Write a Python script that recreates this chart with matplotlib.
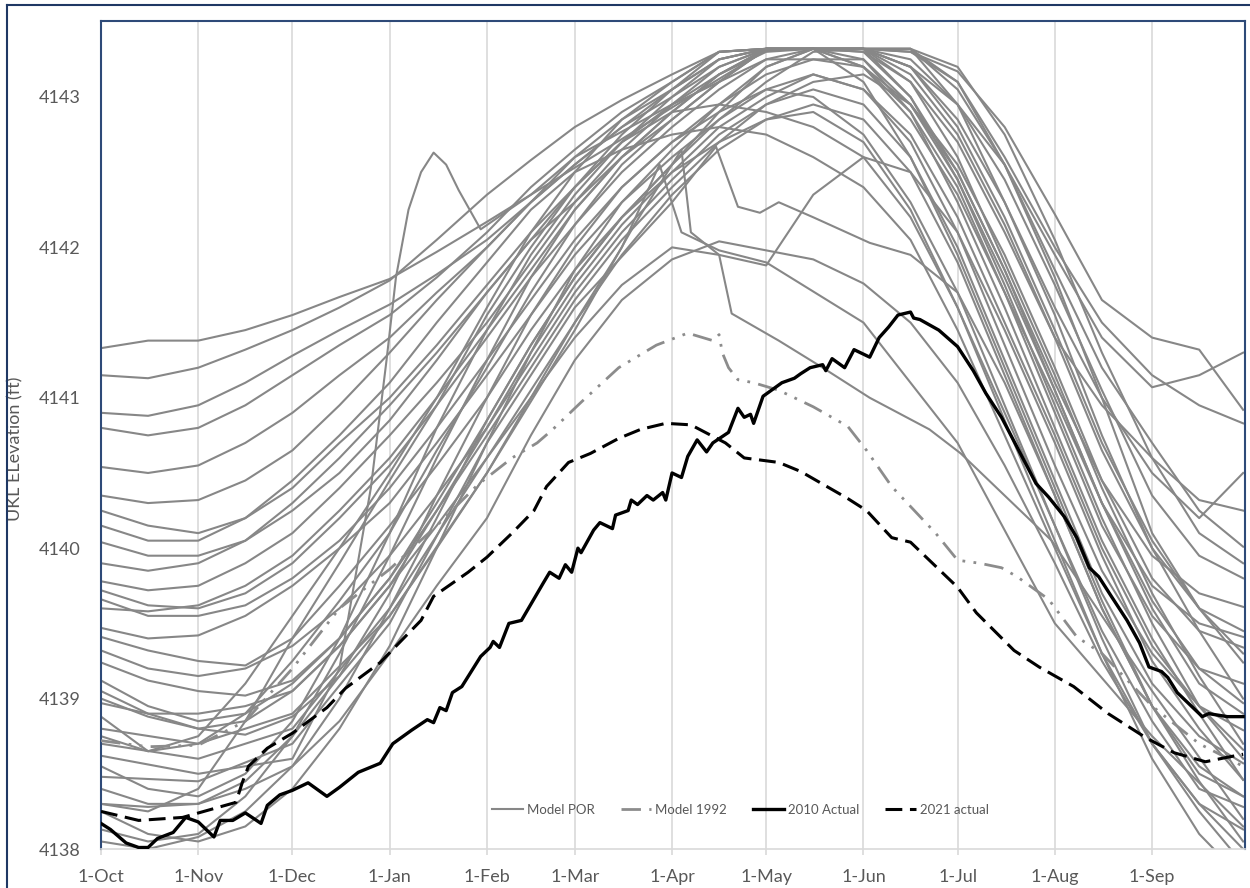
import matplotlib
matplotlib.use("Agg")
import matplotlib.pyplot as plt
from matplotlib.lines import Line2D

plt.rcParams['font.family'] = ['Lato', 'DejaVu Sans']

# ---------------- data ----------------
MONTH_DAYS = [0, 31, 61, 92, 123, 151, 182, 212, 243, 273, 304, 335]
MONTH_LABELS = ["1-Oct", "1-Nov", "1-Dec", "1-Jan", "1-Feb", "1-Mar",
                "1-Apr", "1-May", "1-Jun", "1-Jul", "1-Aug", "1-Sep"]
Y_TICKS = [4138, 4139, 4140, 4141, 4142, 4143]

# semi-monthly sample days (days since 1-Oct) for the Model POR traces
DAYS_POR = [0, 15, 31, 46, 61, 76, 92, 107, 123, 137, 151, 166, 182, 197,
            212, 227, 243, 258, 273, 288, 304, 319, 335, 350, 364]

por_a1 = [4141.33, 4141.38, 4141.38, 4141.45, 4141.55, 4141.67, 4141.79, 4141.97, 4142.17, 4142.35, 4142.53, 4142.72, 4142.93,
          4143.12, 4143.31, 4143.32, 4143.32, 4143.30, 4143.17, 4142.80, 4142.22, 4141.65, 4141.40, 4141.32, 4140.92]
por_a2 = [4141.15, 4141.13, 4141.20, 4141.32, 4141.45, 4141.60, 4141.78, 4142.05, 4142.35, 4142.58, 4142.80, 4142.98, 4143.15,
          4143.30, 4143.32, 4143.32, 4143.32, 4143.20, 4142.95, 4142.55, 4141.95, 4141.40, 4141.07, 4141.15, 4141.30]
por_a3 = [4140.90, 4140.88, 4140.95, 4141.10, 4141.28, 4141.45, 4141.62, 4141.82, 4142.05, 4142.30, 4142.55, 4142.80, 4143.05,
          4143.25, 4143.32, 4143.32, 4143.32, 4143.20, 4142.85, 4142.30, 4141.60, 4141.00, 4140.50, 4140.20, 4140.50]
por_a4 = [4140.80, 4140.75, 4140.80, 4140.95, 4141.15, 4141.35, 4141.55, 4141.80, 4142.10, 4142.40, 4142.65, 4142.90, 4143.10,
          4143.30, 4143.32, 4143.32, 4143.30, 4143.10, 4142.70, 4142.10, 4141.40, 4140.95, 4140.60, 4140.32, 4140.25]
por_a5 = [4140.54, 4140.50, 4140.55, 4140.70, 4140.90, 4141.15, 4141.40, 4141.70, 4142.00, 4142.30, 4142.60, 4142.85, 4143.05,
          4143.25, 4143.32, 4143.32, 4143.32, 4143.32, 4143.05, 4142.55, 4141.85, 4141.20, 4140.70, 4140.25, 4140.01]
por_a6 = [4140.35, 4140.30, 4140.32, 4140.45, 4140.65, 4140.95, 4141.30, 4141.65, 4142.00, 4142.30, 4142.55, 4142.80, 4143.00,
          4143.20, 4143.32, 4143.32, 4143.32, 4143.00, 4142.50, 4141.85, 4141.10, 4140.45, 4139.95, 4139.70, 4139.61]
por_a7 = [4140.25, 4140.15, 4140.10, 4140.20, 4140.40, 4140.70, 4141.00, 4141.35, 4141.75, 4142.10, 4142.40, 4142.70, 4142.95,
          4143.15, 4143.32, 4143.32, 4143.20, 4142.85, 4142.35, 4141.70, 4141.00, 4140.30, 4139.75, 4139.50, 4139.41]
por_a8 = [4140.04, 4139.95, 4139.95, 4140.05, 4140.25, 4140.50, 4140.85, 4141.25, 4141.70, 4142.05, 4142.30, 4142.60, 4142.90,
          4143.15, 4143.32, 4143.32, 4143.32, 4143.25, 4142.95, 4142.45, 4141.75, 4141.05, 4140.35, 4139.95, 4139.80]
por_b1 = [4139.78, 4139.72, 4139.75, 4139.90, 4140.10, 4140.40, 4140.75, 4141.10, 4141.50, 4141.90, 4142.30, 4142.65, 4142.95,
          4143.20, 4143.32, 4143.32, 4143.20, 4142.95, 4142.55, 4141.95, 4141.20, 4140.45, 4139.80, 4139.45, 4139.34]
por_b2 = [4139.72, 4139.62, 4139.60, 4139.70, 4139.90, 4140.20, 4140.55, 4140.95, 4141.40, 4141.80, 4142.15, 4142.50, 4142.80,
          4143.05, 4143.25, 4143.32, 4143.32, 4143.15, 4142.75, 4142.15, 4141.40, 4140.65, 4140.00, 4139.60, 4139.24]
por_b3 = [4139.66, 4139.55, 4139.55, 4139.62, 4139.80, 4140.05, 4140.40, 4140.80, 4141.25, 4141.65, 4142.05, 4142.40, 4142.70,
          4142.95, 4143.15, 4143.25, 4143.20, 4142.90, 4142.40, 4141.70, 4140.90, 4140.15, 4139.55, 4139.20, 4139.10]
por_b4 = [4139.60, 4139.58, 4139.62, 4139.75, 4139.95, 4140.25, 4140.60, 4141.00, 4141.45, 4141.85, 4142.25, 4142.60, 4142.85,
          4143.10, 4143.32, 4143.32, 4143.32, 4143.30, 4143.10, 4142.60, 4142.00, 4141.50, 4141.15, 4140.95, 4140.83]
por_b5 = [4139.47, 4139.40, 4139.42, 4139.55, 4139.75, 4140.00, 4140.30, 4140.70, 4141.15, 4141.55, 4141.95, 4142.30, 4142.60,
          4142.85, 4143.05, 4143.15, 4143.05, 4142.70, 4142.10, 4141.35, 4140.55, 4139.85, 4139.30, 4138.95, 4138.79]
por_b6 = [4139.41, 4139.32, 4139.25, 4139.22, 4139.40, 4139.75, 4140.15, 4140.55, 4141.00, 4141.45, 4141.85, 4142.20, 4142.55,
          4142.85, 4143.10, 4143.30, 4143.32, 4143.20, 4142.80, 4142.20, 4141.45, 4140.70, 4140.05, 4139.60, 4139.45]
por_b7 = [4139.90, 4139.85, 4139.90, 4140.05, 4140.30, 4140.60, 4140.95, 4141.30, 4141.70, 4142.05, 4142.40, 4142.70, 4142.90,
          4142.95, 4142.90, 4142.80, 4142.60, 4142.20, 4141.60, 4140.90, 4140.15, 4139.45, 4138.85, 4138.40, 4138.28]
por_b8 = [4140.15, 4140.05, 4140.05, 4140.20, 4140.45, 4140.75, 4141.10, 4141.50, 4141.90, 4142.25, 4142.50, 4142.65, 4142.75,
          4142.80, 4142.75, 4142.60, 4142.40, 4142.05, 4141.45, 4140.75, 4140.00, 4139.30, 4138.70, 4138.30, 4138.13]
por_c1 = [4139.32, 4139.20, 4139.15, 4139.20, 4139.35, 4139.60, 4139.95, 4140.35, 4140.80, 4141.25, 4141.70, 4142.10, 4142.45,
          4142.75, 4142.95, 4143.05, 4142.95, 4142.60, 4142.00, 4141.25, 4140.45, 4139.70, 4139.10, 4138.75, 4138.57]
por_c2 = [4139.24, 4139.12, 4139.05, 4139.02, 4139.12, 4139.40, 4139.80, 4140.25, 4140.75, 4141.20, 4141.65, 4142.05, 4142.40,
          4142.70, 4142.95, 4143.10, 4143.15, 4142.95, 4142.50, 4141.85, 4141.05, 4140.30, 4139.65, 4139.20, 4138.97]
por_c3 = [4139.12, 4138.95, 4138.85, 4138.90, 4139.10, 4139.40, 4139.80, 4140.30, 4140.85, 4141.35, 4141.80, 4142.20, 4142.55,
          4142.90, 4143.20, 4143.32, 4143.32, 4143.32, 4143.10, 4142.55, 4141.80, 4141.00, 4140.10, 4139.60, 4139.30]
por_c4 = [4139.05, 4138.90, 4138.80, 4138.85, 4139.05, 4139.35, 4139.75, 4140.25, 4140.80, 4141.30, 4141.75, 4142.15, 4142.50,
          4142.80, 4143.00, 4143.15, 4143.05, 4142.75, 4142.20, 4141.50, 4140.75, 4140.00, 4139.35, 4138.95, 4138.66]
por_c5 = [4138.88, 4138.65, 4138.70, 4138.90, 4139.25, 4139.65, 4140.10, 4140.65, 4141.20, 4141.70, 4142.15, 4142.55, 4142.85,
          4143.10, 4143.32, 4143.32, 4143.25, 4142.90, 4142.30, 4141.60, 4140.80, 4140.05, 4139.40, 4138.90, 4138.46]
por_c6 = [4138.55, 4138.40, 4138.35, 4138.50, 4138.85, 4139.40, 4140.10, 4140.80, 4141.45, 4141.95, 4142.35, 4142.70, 4143.00,
          4143.25, 4143.32, 4143.32, 4143.10, 4142.60, 4141.95, 4141.20, 4140.40, 4139.65, 4138.95, 4138.45, 4138.05]
por_c7 = [4138.40, 4138.30, 4138.30, 4138.45, 4138.75, 4139.15, 4139.70, 4140.35, 4141.00, 4141.55, 4142.00, 4142.40, 4142.70,
          4142.90, 4143.05, 4143.00, 4142.75, 4142.30, 4141.70, 4140.95, 4140.15, 4139.40, 4138.70, 4138.25, 4137.90]
por_c8 = [4138.30, 4138.25, 4138.40, 4138.85, 4139.40, 4139.90, 4140.45, 4140.95, 4141.55, 4142.00, 4142.40, 4142.75, 4143.05,
          4143.30, 4143.32, 4143.32, 4143.32, 4143.10, 4142.60, 4141.90, 4141.15, 4140.40, 4139.70, 4139.15, 4138.70]
por_c9 = [4138.25, 4138.10, 4138.05, 4138.15, 4138.40, 4138.80, 4139.35, 4140.00, 4140.70, 4141.30, 4141.85, 4142.30, 4142.65,
          4142.95, 4143.20, 4143.32, 4143.30, 4143.00, 4142.45, 4141.75, 4140.95, 4140.20, 4139.50, 4138.95, 4138.60]
por_c10 = [4138.13, 4138.05, 4138.10, 4138.35, 4138.75, 4139.30, 4139.95, 4140.60, 4141.25, 4141.80, 4142.25, 4142.60, 4142.90,
           4143.15, 4143.30, 4143.32, 4143.32, 4143.32, 4142.95, 4142.30, 4141.55, 4140.75, 4140.00, 4139.45, 4139.00]
por_c11 = [4138.05, 4138.00, 4138.08, 4138.25, 4138.55, 4139.00, 4139.60, 4140.20, 4140.85, 4141.35, 4141.80, 4142.20, 4142.50,
           4142.70, 4142.85, 4142.90, 4142.70, 4142.25, 4141.60, 4140.85, 4140.05, 4139.30, 4138.60, 4138.10, 4137.80]
por_c12 = [4139.00, 4138.88, 4138.80, 4138.76, 4138.88, 4139.15, 4139.55, 4140.00, 4140.50, 4141.00, 4141.50, 4141.95, 4142.35,
           4142.65, 4142.85, 4142.95, 4142.85, 4142.50, 4141.90, 4141.15, 4140.35, 4139.60, 4138.95, 4138.50, 4138.35]
por_c13 = [4138.75, 4138.65, 4138.75, 4139.10, 4139.55, 4140.00, 4140.50, 4141.00, 4141.60, 4142.10, 4142.50, 4142.85, 4143.10,
           4143.30, 4143.32, 4143.32, 4143.32, 4143.32, 4143.20, 4142.75, 4142.05, 4141.30, 4140.60, 4140.10, 4139.90]
por_hump = [4138.30, 4138.28, 4138.30, 4138.40, 4138.55, 4138.85, 4139.30, 4139.75, 4140.20, 4140.75, 4141.25, 4141.65, 4141.92,
            4142.04, 4141.98, 4141.92, 4141.76, 4141.50, 4141.10, 4140.55, 4139.90, 4139.25, 4138.70, 4138.30, 4138.00]
por_bounce = [4138.97, 4138.90, 4138.90, 4138.95, 4139.05, 4139.35, 4139.75, 4140.15, 4140.60, 4141.00, 4141.40, 4141.75, 4142.00,
              4141.95, 4141.88, 4142.35, 4142.60, 4142.50, 4142.10, 4141.45, 4140.70, 4139.95, 4139.25, 4138.80, 4138.46]

# Model POR traces with their own (irregular) sample days
days_spike = [0, 31, 61, 76, 86, 91, 94, 98, 102, 106, 110, 114, 121, 137, 151, 182, 212, 243, 258, 273, 288, 304, 319, 335, 350, 364]
por_spike = [4138.62, 4138.50, 4138.60, 4139.20, 4140.40, 4141.25, 4141.80, 4142.25, 4142.50, 4142.63, 4142.55, 4142.38, 4142.12,
             4142.35, 4142.60, 4142.95, 4143.25, 4143.25, 4142.95, 4142.45, 4141.80, 4141.05, 4140.30, 4139.60, 4139.10, 4138.90]
days_drop1 = [0, 31, 61, 92, 123, 151, 182, 196, 203, 210, 216, 227, 245, 258, 273, 288, 304, 319, 335, 350, 364]
por_drop1 = [4138.48, 4138.45, 4138.70, 4139.50, 4140.70, 4141.60, 4142.30, 4142.67, 4142.27, 4142.23, 4142.30, 4142.20, 4142.03,
             4141.95, 4141.70, 4141.10, 4140.35, 4139.60, 4138.95, 4138.55, 4138.35]
days_drop2 = [0, 31, 61, 92, 123, 151, 170, 182, 185, 188, 197, 201, 206, 216, 230, 245, 264, 274, 303, 335, 364]
por_drop2 = [4138.80, 4138.70, 4138.90, 4139.55, 4140.50, 4141.45, 4142.15, 4142.55, 4142.65, 4142.10, 4141.95, 4141.56, 4141.50,
             4141.38, 4141.20, 4141.00, 4140.79, 4140.63, 4140.05, 4139.05, 4138.20]
days_drop3 = [0, 31, 61, 92, 123, 151, 166, 178, 185, 197, 212, 243, 273, 304, 335, 364]
por_drop3 = [4138.70, 4138.60, 4138.80, 4139.60, 4140.60, 4141.50, 4142.00, 4142.55, 4142.10, 4141.98, 4141.90, 4141.50, 4140.70,
             4139.50, 4138.75, 4138.15]

# Model 1992
days_1992 = [0, 15, 31, 46, 61, 76, 92, 107, 120, 131, 139, 144, 153, 165, 177, 187, 195, 197, 198, 200,
             203, 208, 216, 227, 238, 244, 252, 266, 273, 280, 287, 292, 302, 311, 319, 335, 350, 364]
model_1992 = [4138.72, 4138.68, 4138.69, 4138.85, 4139.20, 4139.60, 4139.86, 4140.15, 4140.42, 4140.60,
              4140.70, 4140.79, 4140.97, 4141.20, 4141.35, 4141.43, 4141.38, 4141.42, 4141.30, 4141.20,
              4141.12, 4141.10, 4141.05, 4140.94, 4140.81, 4140.65, 4140.41, 4140.10, 4139.92, 4139.90,
              4139.87, 4139.81, 4139.66, 4139.41, 4139.30, 4138.95, 4138.70, 4138.55]

# 2010 Actual
days_2010 = [0, 3, 8, 12, 15, 18, 23, 27, 31, 36,
             38, 42, 46, 51, 53, 57, 61, 66, 70, 72,
             76, 82, 89, 93, 99, 104, 106, 108, 110, 112,
             115, 121, 124, 125, 127, 130, 134, 141, 143, 146,
             148, 150, 152, 153, 157, 159, 163, 164, 168, 169,
             171, 174, 176, 179, 180, 182, 185, 186, 187, 190,
             193, 195, 200, 203, 205, 207, 208, 211, 213, 217,
             221, 223, 226, 230, 231, 233, 237, 240, 245, 248,
             251, 254, 258, 259, 261, 267, 273, 278, 282, 287,
             294, 298, 302, 307, 311, 315, 318, 322, 327, 331,
             334, 338, 340, 343, 348, 351, 353, 359, 364]
actual_2010 = [4138.17, 4138.13, 4138.04, 4138.01, 4138.01, 4138.07, 4138.11, 4138.21, 4138.18, 4138.08,
               4138.19, 4138.19, 4138.24, 4138.17, 4138.29, 4138.36, 4138.39, 4138.44, 4138.38, 4138.35,
               4138.41, 4138.51, 4138.57, 4138.70, 4138.79, 4138.86, 4138.84, 4138.94, 4138.92, 4139.04,
               4139.08, 4139.28, 4139.34, 4139.38, 4139.34, 4139.50, 4139.52, 4139.77, 4139.84, 4139.80,
               4139.89, 4139.84, 4140.00, 4139.97, 4140.12, 4140.17, 4140.13, 4140.22, 4140.25, 4140.32,
               4140.29, 4140.35, 4140.32, 4140.37, 4140.32, 4140.50, 4140.47, 4140.54, 4140.61, 4140.72,
               4140.64, 4140.70, 4140.77, 4140.93, 4140.87, 4140.89, 4140.83, 4141.01, 4141.04, 4141.10,
               4141.13, 4141.16, 4141.20, 4141.22, 4141.18, 4141.26, 4141.20, 4141.32, 4141.27, 4141.40,
               4141.47, 4141.55, 4141.57, 4141.53, 4141.52, 4141.45, 4141.34, 4141.18, 4141.03, 4140.87,
               4140.59, 4140.43, 4140.34, 4140.21, 4140.07, 4139.87, 4139.81, 4139.68, 4139.52, 4139.37,
               4139.21, 4139.18, 4139.14, 4139.04, 4138.94, 4138.88, 4138.90, 4138.88, 4138.88]

# 2021 actual
days_2021 = [0, 12, 26, 43, 45, 47, 53, 61, 72, 78,
             89, 95, 102, 106, 117, 123, 131, 138, 142, 149,
             156, 165, 172, 180, 188, 199, 205, 216, 223, 238,
             244, 252, 258, 263, 273, 279, 291, 299, 310, 321,
             333, 342, 352, 359, 364]
actual_2021 = [4138.25, 4138.19, 4138.21, 4138.31, 4138.44, 4138.55, 4138.67, 4138.77, 4138.94, 4139.07,
               4139.24, 4139.37, 4139.52, 4139.68, 4139.84, 4139.94, 4140.10, 4140.25, 4140.41, 4140.57,
               4140.63, 4140.73, 4140.79, 4140.83, 4140.82, 4140.70, 4140.60, 4140.57, 4140.51, 4140.33,
               4140.25, 4140.07, 4140.04, 4139.94, 4139.74, 4139.57, 4139.32, 4139.21, 4139.08, 4138.90,
               4138.74, 4138.64, 4138.58, 4138.61, 4138.63]

# ---------------- figure ----------------
W, H = 1250, 888
fig = plt.figure(figsize=(W / 100, H / 100), dpi=100)
fig.patch.set_facecolor("white")

ax = fig.add_axes([101 / W, 1 - 849 / H, 1144 / W, 828 / H])

TXT = "#595959"
GRAY = "#878787"
NAVY = "#2e4a78"

grid_traces = [por_a1, por_a2, por_a3, por_a4, por_a5, por_a6, por_a7, por_a8,
               por_b1, por_b2, por_b3, por_b4, por_b5, por_b6, por_b7, por_b8,
               por_c1, por_c2, por_c3, por_c4, por_c5, por_c6, por_c7, por_c8,
               por_c9, por_c10, por_c11, por_c12, por_c13, por_hump, por_bounce]
own_traces = [(days_spike, por_spike), (days_drop1, por_drop1),
              (days_drop2, por_drop2), (days_drop3, por_drop3)]

first = True
for vals in grid_traces:
    ax.plot(DAYS_POR, vals, color=GRAY, lw=1.5, zorder=2,
            solid_joinstyle="round", label="Model POR" if first else "_nolegend_")
    first = False
for d, vals in own_traces:
    ax.plot(d, vals, color=GRAY, lw=1.5, zorder=2, solid_joinstyle="round",
            label="_nolegend_")

l92, = ax.plot(days_1992, model_1992, color="#8c8c8c", lw=2.0, zorder=3,
               label="Model 1992")
l92.set_dashes([7, 3, 1, 3, 1, 3])
l92.set_dash_capstyle("butt")

l21, = ax.plot(days_2021, actual_2021, color="black", lw=2.2, zorder=4,
               label="2021 actual")
l21.set_dashes([5.5, 2.5])

l10, = ax.plot(days_2010, actual_2010, color="black", lw=2.4, zorder=5,
               solid_joinstyle="round", label="2010 Actual")

ax.set_xlim(0, 364.6)
ax.set_ylim(4138, 4143.505)

ax.set_xticks(MONTH_DAYS)
ax.set_xticklabels(MONTH_LABELS)
ax.set_yticks(Y_TICKS)
ax.set_yticklabels([str(v) for v in Y_TICKS])
ax.grid(axis="x", color="#d9d9d9", lw=1.2, zorder=0)
ax.set_axisbelow(True)

ax.tick_params(axis="x", length=4.5, width=1.2, color="#d9d9d9", direction="out",
               pad=10, labelsize=13, labelcolor=TXT)
ax.tick_params(axis="y", length=0, pad=15, labelsize=13, labelcolor=TXT)

for side in ("left", "top", "right"):
    ax.spines[side].set_color(NAVY)
    ax.spines[side].set_linewidth(1.5)
ax.spines["bottom"].set_color("#d9d9d9")
ax.spines["bottom"].set_linewidth(1.2)

ax.set_ylabel("UKL ELevation (ft)", fontsize=13, color=TXT)
ax.yaxis.set_label_coords(-0.068, 0.483)

handles = [ax.get_lines()[0], l92, l10, l21]
leg = ax.legend(handles=handles, labels=["Model POR", "Model 1992", "2010 Actual", "2021 actual"],
                ncol=4, loc="center", bbox_to_anchor=(0.559, 0.047), frameon=False,
                fontsize=9.5, handlelength=2.3, handletextpad=0.3, columnspacing=2.0)
for t in leg.get_texts():
    t.set_color(TXT)

# outer chart border (left and top edges visible)
fig.add_artist(Line2D([7 / W, 7 / W], [0, 1 - 5 / H], transform=fig.transFigure,
                      color="#1f3864", lw=1.5))
fig.add_artist(Line2D([7 / W, 1], [1 - 5 / H, 1 - 5 / H], transform=fig.transFigure,
                      color="#1f3864", lw=1.5))

fig.savefig("out.png", dpi=100, facecolor="white")
